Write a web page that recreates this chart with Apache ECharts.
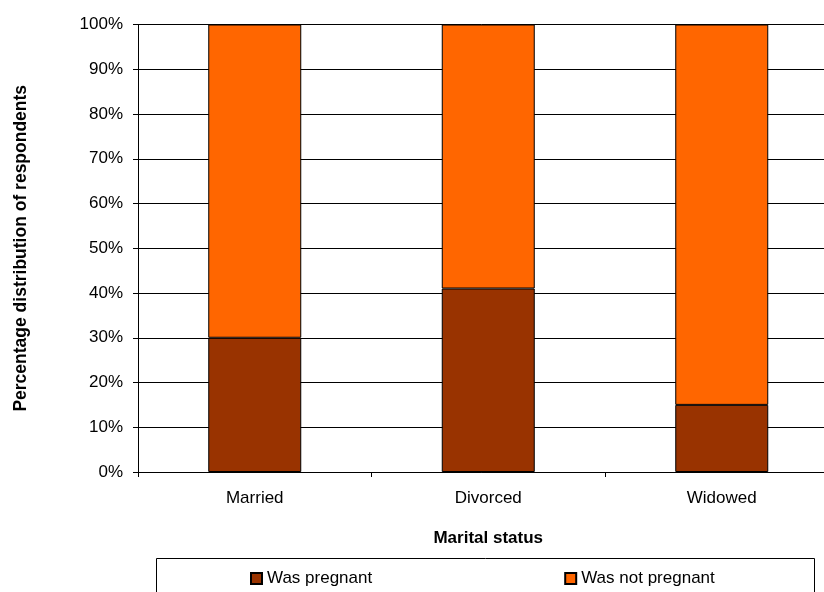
<!DOCTYPE html>
<html>
<head>
<meta charset="utf-8">
<script src="https://cdn.jsdelivr.net/npm/echarts@6/dist/echarts.min.js"></script>
<style>
  html, body { margin: 0; padding: 0; background: #fff; }
  #chart { width: 824px; height: 592px; }
</style>
</head>
<body>
<div id="chart"></div>
<script>
// Marital status of respondents and whether they had been pregnant (percent)
const categories = ['Married', 'Divorced', 'Widowed'];
const wasPregnant = [30, 41, 15];
const wasNotPregnant = [70, 59, 85];
const seriesNames = ['Was pregnant', 'Was not pregnant'];
const xTitle = 'Marital status';
const yTitle = 'Percentage distribution of respondents';

const FONT = 'Liberation Sans, Arial, sans-serif';
const chart = echarts.init(document.getElementById('chart'), null, { renderer: 'canvas' });

chart.setOption({
  animation: false,
  backgroundColor: '#fff',
  textStyle: { fontFamily: FONT, color: '#000' },
  grid: {
    left: 138, top: 24.5, width: 700.5, height: 447.5,
    containLabel: false,
    outerBoundsMode: 'none'
  },
  xAxis: {
    type: 'category',
    data: categories,
    name: xTitle,
    nameLocation: 'middle',
    nameGap: 58,
    nameTextStyle: { fontFamily: FONT, fontSize: 17, fontWeight: 'bold', color: '#000' },
    axisLine: { lineStyle: { color: '#000', width: 1 } },
    axisTick: { show: true, alignWithLabel: false, length: 5, lineStyle: { color: '#000' } },
    axisLabel: { fontFamily: FONT, fontSize: 17, color: '#000', margin: 18 },
    splitLine: { show: false }
  },
  yAxis: {
    type: 'value',
    min: 0,
    max: 100,
    interval: 10,
    name: yTitle,
    nameLocation: 'middle',
    nameGap: 108,
    nameTextStyle: { fontFamily: FONT, fontSize: 17.5, fontWeight: 'bold', color: '#000' },
    axisLine: { show: true, lineStyle: { color: '#000', width: 1 } },
    axisTick: { show: true, length: 5, lineStyle: { color: '#000' } },
    axisLabel: { fontFamily: FONT, fontSize: 17, color: '#000', margin: 15, formatter: '{value}%' },
    splitLine: { show: true, lineStyle: { color: '#000', width: 1 } }
  },
  legend: {
    left: 250,
    top: 570,
    padding: 0,
    itemWidth: 11,
    itemHeight: 11,
    itemGap: 192,
    icon: 'rect',
    textStyle: { fontFamily: FONT, fontSize: 17, color: '#000' },
    data: seriesNames
  },
  graphic: [{
    type: 'rect',
    shape: { x: 156.5, y: 558.5, width: 658, height: 45 },
    style: { fill: 'none', stroke: '#000', lineWidth: 1 },
    silent: true,
    z: 0
  }],
  series: [
    {
      name: seriesNames[0],
      type: 'bar',
      stack: 'total',
      barWidth: 93,
      data: wasPregnant,
      itemStyle: { color: '#993300', borderColor: '#000', borderWidth: 1 }
    },
    {
      name: seriesNames[1],
      type: 'bar',
      stack: 'total',
      barWidth: 93,
      data: wasNotPregnant,
      itemStyle: { color: '#FF6600', borderColor: '#000', borderWidth: 1 }
    }
  ]
});
</script>
</body>
</html>
